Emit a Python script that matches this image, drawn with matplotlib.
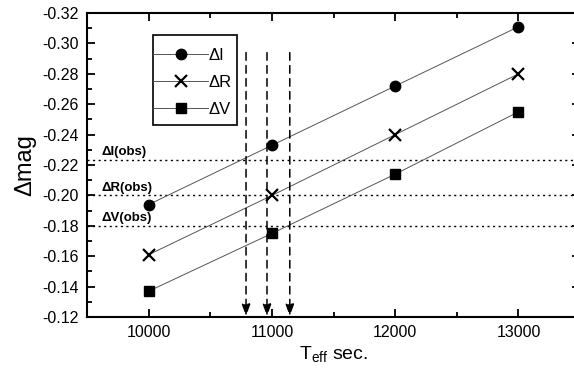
import matplotlib
matplotlib.use('Agg')
import matplotlib.pyplot as plt
from matplotlib.ticker import MultipleLocator
from matplotlib.patches import Rectangle

plt.rcParams['font.family'] = ['Liberation Sans', 'DejaVu Sans']

teff = [10000, 11000, 12000, 13000]
dI = [-0.194, -0.233, -0.272, -0.311]
dR = [-0.161, -0.200, -0.240, -0.280]
dV = [-0.137, -0.175, -0.214, -0.255]

obs_names = ['\u0394I(obs)', '\u0394R(obs)', '\u0394V(obs)']
obs_vals = [-0.2235, -0.200, -0.180]
arrow_x = [10790, 10960, 11145]
arrow_top = -0.294

fig = plt.figure(figsize=(5.74, 3.72), dpi=100)
ax = fig.add_axes([0.1516, 0.1478, 0.859, 0.817])

ax.plot(teff, dI, '-o', color='#555555', lw=0.7, mfc='black', mec='black', ms=7.5, label='\u0394I')
ax.plot(teff, dR, '-x', color='#555555', lw=0.7, mfc='black', mec='black', ms=9, mew=1.6, label='\u0394R')
ax.plot(teff, dV, '-s', color='#555555', lw=0.7, mfc='black', mec='black', ms=6.5, label='\u0394V')

for name, v in zip(obs_names, obs_vals):
    ax.axhline(v, color='black', ls=(0, (1.5, 2.5)), lw=1.0, zorder=1)
    ax.text(9620, v - 0.005, name, fontsize=9.5, fontweight='bold', va='center', ha='left')

for x in arrow_x:
    ax.annotate('', xy=(x, -0.1205), xytext=(x, arrow_top),
                arrowprops=dict(arrowstyle='-|>,head_width=0.25,head_length=0.7',
                                color='black', lw=1.1, ls=(0, (5, 3.5)), shrinkA=0, shrinkB=0))

ax.set_xlim(9500, 13500)
ax.set_ylim(-0.12, -0.32)
ax.xaxis.set_major_locator(MultipleLocator(1000))
ax.xaxis.set_minor_locator(MultipleLocator(500))
ax.yaxis.set_major_locator(MultipleLocator(0.02))
ax.yaxis.set_minor_locator(MultipleLocator(0.01))
ax.yaxis.set_major_formatter(matplotlib.ticker.FormatStrFormatter('%.2f'))
ax.tick_params(which='both', direction='in', top=True, right=True, width=1.3, labelsize=11.5, pad=6)
ax.tick_params(which='major', length=6)
ax.tick_params(which='minor', length=3.5)
for s in ax.spines.values():
    s.set_linewidth(1.5)

ax.set_ylabel('\u0394mag', fontsize=17, labelpad=4)
ax.set_xlabel('T$_{\\mathregular{eff}}$ sec.', fontsize=14, labelpad=3)

# legend box drawn separately so the handle lines start at the frame
box = Rectangle((0.1339, 0.6316), 0.1704, 0.296, transform=ax.transAxes,
                facecolor='white', edgecolor='black', lw=1.2, zorder=4)
ax.add_patch(box)
leg = ax.legend(loc='center left', bbox_to_anchor=(0.1339, 0.772), fontsize=12,
                handlelength=3.3, handletextpad=0.05, borderpad=0, labelspacing=0.72,
                borderaxespad=0, frameon=False)
leg.set_zorder(5)

fig.savefig('out.png', dpi=100)
